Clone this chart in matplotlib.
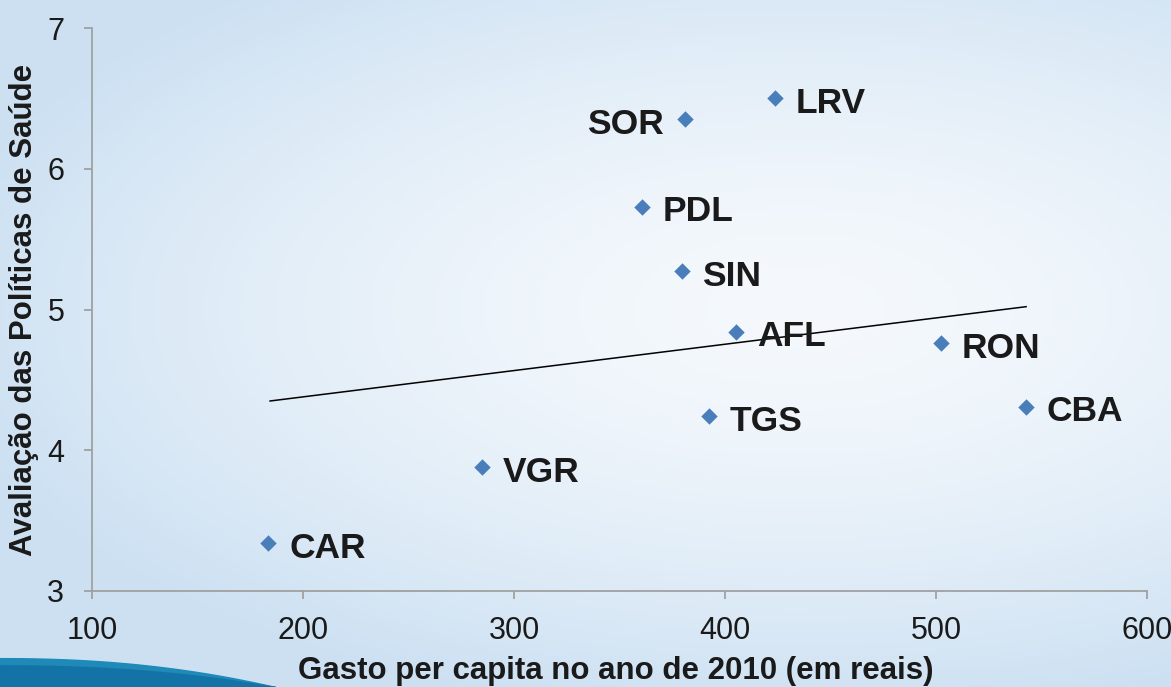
import numpy as np
import matplotlib
matplotlib.use("Agg")
import matplotlib.pyplot as plt

plt.rcParams['font.family'] = ['Liberation Sans', 'DejaVu Sans']

# data
cidades = ["CAR", "VGR", "TGS", "AFL", "SIN", "PDL", "SOR", "LRV", "RON", "CBA"]
gasto = [183.5, 284.8, 392.5, 405.2, 379.4, 360.5, 381.0, 423.7, 502.4, 542.6]
avaliacao = [3.34, 3.88, 4.24, 4.84, 5.27, 5.73, 6.35, 6.50, 4.76, 4.31]

# trendline as drawn in the original (start / end)
tend_x = [184.4, 542.7]
tend_y = [4.35, 5.02]

xticks = [100, 200, 300, 400, 500, 600]
yticks = [3, 4, 5, 6, 7]

W, H = 1171, 687
fig = plt.figure(figsize=(W / 100, H / 100), dpi=100)

# background gradient
bg = fig.add_axes([0, 0, 1, 1], zorder=0)
bg.set_axis_off()
yy, xx = np.mgrid[0:1:200j, 0:1:340j]
d = np.sqrt(((xx - 0.68) / 1.0) ** 2 + ((yy - 0.45) / 0.8) ** 2)
t = np.clip(d / 0.75, 0, 1) ** 1.6
blue = np.array([0.80, 0.88, 0.95])
white = np.array([0.96, 0.975, 0.99])
img = white[None, None, :] * (1 - t[..., None]) + blue[None, None, :] * t[..., None]
bg.imshow(img, extent=[0, 1, 0, 1], aspect='auto', origin='upper')

# blue swoosh bottom-left
sx = np.linspace(0, 0.235, 100)
top = 0.042 - 0.042 * (sx / 0.235) ** 2.2
bg.fill_between(sx, 0, top, color='#1f8ab8', zorder=2)
bg.fill_between(sx, 0, top * 0.75, color='#1373a6', zorder=3)
bg.set_xlim(0, 1)
bg.set_ylim(0, 1)

ax = fig.add_axes([92 / W, 1 - 591 / H, (1147 - 92) / W, (591 - 28) / H], zorder=1)
ax.patch.set_alpha(0)

ax.scatter(gasto, avaliacao, marker='D', s=70, color='#4a7ebb', zorder=3, linewidths=0)
ax.plot(tend_x, tend_y, color='black', lw=1.1, zorder=2)

for nome, x, y in zip(cidades, gasto, avaliacao):
    if nome == "SOR":
        ax.annotate(nome, (x, y), xytext=(-15, -3.5), textcoords='offset points',
                    ha='right', va='center', fontsize=25.5, fontweight='bold', color='#1a1a1a')
    else:
        ax.annotate(nome, (x, y), xytext=(15, -3.5), textcoords='offset points',
                    ha='left', va='center', fontsize=25.5, fontweight='bold', color='#1a1a1a')

ax.set_xlim(100, 600)
ax.set_ylim(3, 7)
ax.set_xticks(xticks)
ax.set_yticks(yticks)
for s in ['top', 'right']:
    ax.spines[s].set_visible(False)
for s in ['left', 'bottom']:
    ax.spines[s].set_color('#a0a0a0')
    ax.spines[s].set_linewidth(1.3)
ax.tick_params(colors='#a0a0a0', length=6, width=1.3, labelsize=22, labelcolor='#1a1a1a')
ax.tick_params(axis='x', pad=12)
ax.tick_params(axis='y', pad=14)

ax.set_xlabel("Gasto per capita no ano de 2010 (em reais)", fontsize=22.5,
              fontweight='bold', color='#1a1a1a', va='center')
ax.set_ylabel("Avaliação das Políticas de Saúde", fontsize=22.5,
              fontweight='bold', color='#1a1a1a', va='center')
ax.xaxis.set_label_coords((616 - 92) / 1055, (591 - 671) / 563)
ax.yaxis.set_label_coords((24 - 92) / 1055, (591 - 310) / 563)

fig.savefig("out.png", dpi=100)
